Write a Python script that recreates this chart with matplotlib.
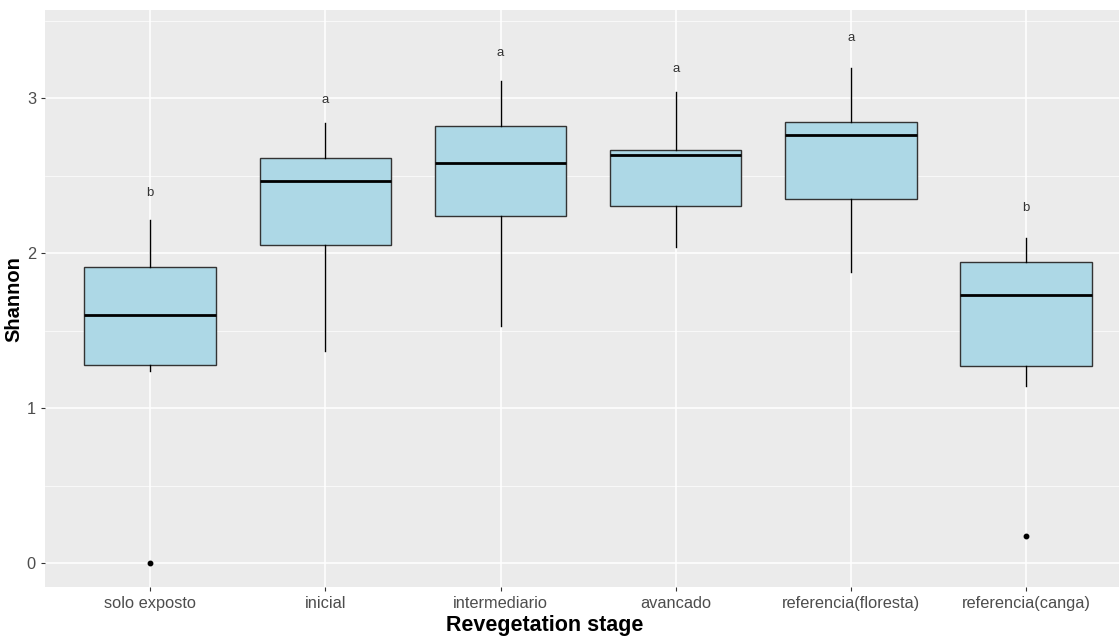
import matplotlib
matplotlib.use("Agg")
import matplotlib.pyplot as plt
from matplotlib.ticker import MultipleLocator

categories = ["solo exposto", "inicial", "intermediario", "avancado",
              "referencia(floresta)", "referencia(canga)"]
whislo = [1.24, 1.37, 1.53, 2.04, 1.875, 1.143]
q1 = [1.279, 2.05, 2.237, 2.303, 2.351, 1.274]
med = [1.603, 2.465, 2.58, 2.63, 2.762, 1.729]
q3 = [1.908, 2.613, 2.82, 2.667, 2.843, 1.94]
whishi = [2.21, 2.84, 3.11, 3.037, 3.196, 2.095]
fliers = [[0.0], [], [], [], [], [0.175]]
letters = ["b", "a", "a", "a", "a", "b"]
letter_y = [2.39, 2.99, 3.29, 3.19, 3.385, 2.29]

W, H = 1119, 638
fig = plt.figure(figsize=(W / 100, H / 100), dpi=100)
ax = fig.add_axes([45 / W, (H - 587) / H, (W - 45) / W, (587 - 10) / H])
ax.set_facecolor("#EBEBEB")

stats = []
for i in range(len(categories)):
    stats.append(dict(med=med[i], q1=q1[i], q3=q3[i], whislo=whislo[i],
                      whishi=whishi[i], fliers=fliers[i], label=categories[i]))

pos = list(range(len(categories)))
ax.bxp(stats, positions=pos, widths=0.75, patch_artist=True, showcaps=False,
       boxprops=dict(facecolor="#ADD8E6", edgecolor="#333333", linewidth=1.0),
       medianprops=dict(color="black", linewidth=2.0),
       whiskerprops=dict(color="black", linewidth=1.0),
       flierprops=dict(marker="o", markerfacecolor="black", markeredgecolor="black",
                       markersize=3.2),
       zorder=3)

for i, (t, y) in enumerate(zip(letters, letter_y)):
    ax.text(pos[i], y, t, ha="center", va="center", fontsize=9.5,
            color="#333333", family="Liberation Sans")

ax.set_xlim(-0.6, 5.53)
y0 = 0 - (587 - 563) / 155
y1 = 3 + (98 - 10) / 155
ax.set_ylim(y0, y1)

ax.yaxis.set_major_locator(MultipleLocator(1))
ax.yaxis.set_minor_locator(MultipleLocator(0.5))
ax.grid(which="major", color="white", linewidth=1.1, zorder=0)
ax.grid(which="minor", axis="y", color="white", linewidth=0.5, zorder=0)
ax.set_axisbelow(True)
for s in ax.spines.values():
    s.set_visible(False)

ax.set_xticks(pos)
ax.set_xticklabels(categories)
ax.tick_params(axis="both", which="major", length=3, color="#333333",
               labelcolor="#4D4D4D", labelsize=11.8)
ax.tick_params(axis="y", which="minor", length=0)
for lab in ax.get_xticklabels() + ax.get_yticklabels():
    lab.set_family("Liberation Sans")

fig.text(545 / W, 1 - 626 / H, "Revegetation stage", ha="center", va="center",
         fontsize=15.5, fontweight="bold", family="Liberation Sans", color="black")
fig.text(14 / W, 1 - 299 / H, "Shannon", ha="center", va="center", rotation=90,
         fontsize=14.5, fontweight="bold", family="Liberation Sans", color="black")

fig.savefig("out.png", dpi=100)
